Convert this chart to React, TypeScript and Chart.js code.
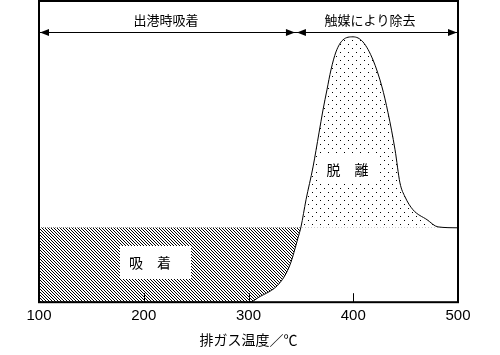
import { useEffect, useRef } from "react";
import { Chart, registerables } from "chart.js";

Chart.register(...registerables);

// ---- data ----
const temps = [100, 301.4, 309.1, 330.1, 339.6, 347.3, 350.1, 354.9, 361.6, 367.3, 371.1, 374.9, 378.7, 383.5, 390.2, 399.8, 409.3, 418.9, 427.4, 433.2, 439.9, 444.6, 449.4, 457.0, 470.4, 480.9, 500];
const signal = [0, 0, 1.5, 6.5, 12.4, 21.4, 25.0, 34.0, 44.9, 56.2, 63.8, 70.5, 77.1, 83.1, 87.1, 88.1, 86.4, 80.4, 71.5, 62.9, 50.6, 39.6, 35.0, 30.7, 27.4, 25.0, 24.7];
const baselineLevel = 24.7;
const baselineStart = 100;
const baselineEnd = 349.6;
const xTicks = [100, 200, 300, 400, 500];
const innerTicks = [200, 300, 400];
const xTitle = "排ガス温度／℃";

const phaseLabels = ["出港時吸着", "触媒により除去"];
const phaseBounds = [100, 345.3, 500];
const phaseTextX = [221.2, 416];
const phaseTextY = 93.7;
const phaseArrowY = 89.7;

const regionLabels = ["吸　着", "脱　離"];
const regionTextX = [206, 394.5];
const regionTextY = [13, 44.1];
const regionBoxX = [211.2, 395.9];
const regionBoxY = [13.3, 44.1];

const CJK = '"Noto Sans CJK JP", sans-serif';

function makeHatch(): CanvasPattern | string {
  const c = document.createElement("canvas");
  c.width = 3;
  c.height = 3;
  const g = c.getContext("2d")!;
  g.fillStyle = "#fff";
  g.fillRect(0, 0, 3, 3);
  g.fillStyle = "#000";
  for (let i = 0; i < 3; i++) g.fillRect(i, i, 1, 1);
  return g.createPattern(c, "repeat") || "#888";
}

function makeDots(): CanvasPattern | string {
  const c = document.createElement("canvas");
  c.width = 8;
  c.height = 8;
  const g = c.getContext("2d")!;
  g.fillStyle = "#fff";
  g.fillRect(0, 0, 8, 8);
  g.fillStyle = "#000";
  g.fillRect(0, 0, 1, 1);
  g.fillRect(4, 4, 1, 1);
  return g.createPattern(c, "repeat") || "#ccc";
}

const overlay = {
  id: "overlay",
  afterDatasetsDraw(chart: any) {
    const { ctx, chartArea: a } = chart;
    const x = chart.scales.x;
    const y = chart.scales.y;
    ctx.save();

    // label boxes
    const boxW = [71, 62];
    const boxH = [33, 29];
    ctx.fillStyle = "#fff";
    for (let i = 0; i < regionLabels.length; i++) {
      const cx = x.getPixelForValue(regionBoxX[i]);
      const cy = y.getPixelForValue(regionBoxY[i]);
      ctx.fillRect(Math.round(cx - boxW[i] / 2), Math.round(cy - boxH[i] / 2), boxW[i], boxH[i]);
    }
    ctx.fillStyle = "#000";
    ctx.textAlign = "center";
    ctx.textBaseline = "middle";
    ctx.font = "14px " + CJK;
    for (let i = 0; i < regionLabels.length; i++) {
      ctx.fillText(regionLabels[i], x.getPixelForValue(regionTextX[i]), y.getPixelForValue(regionTextY[i]));
    }

    // inner tick marks
    ctx.strokeStyle = "#000";
    ctx.lineWidth = 1;
    ctx.beginPath();
    for (const t of innerTicks) {
      const px = Math.round(x.getPixelForValue(t)) + 0.5;
      ctx.moveTo(px, a.bottom);
      ctx.lineTo(px, a.bottom - 9);
    }
    ctx.stroke();

    // phase arrows
    const yA = Math.round(y.getPixelForValue(phaseArrowY)) + 0.5;
    const x0 = x.getPixelForValue(phaseBounds[0]) + 1;
    const x1 = x.getPixelForValue(phaseBounds[1]);
    const x2 = x.getPixelForValue(phaseBounds[2]) - 1;
    ctx.beginPath();
    ctx.moveTo(x0, yA);
    ctx.lineTo(x2, yA);
    ctx.stroke();
    const head = (tip: number, dir: number) => {
      ctx.beginPath();
      ctx.moveTo(tip, yA);
      ctx.lineTo(tip - dir * 9, yA - 3.5);
      ctx.lineTo(tip - dir * 9, yA + 3.5);
      ctx.closePath();
      ctx.fill();
    };
    head(x0, -1);
    head(x1 - 1, 1);
    head(x1 + 1, -1);
    head(x2, 1);
    ctx.font = "13px " + CJK;
    for (let i = 0; i < phaseLabels.length; i++) {
      ctx.fillText(phaseLabels[i], x.getPixelForValue(phaseTextX[i]), y.getPixelForValue(phaseTextY));
    }

    // frame
    ctx.lineWidth = 2;
    ctx.strokeRect(a.left, a.top, a.right - a.left, a.bottom - a.top);
    ctx.restore();
  },
};

export default function App() {
  const ref = useRef<HTMLCanvasElement>(null);
  useEffect(() => {
    document.body.style.margin = "0";
    const hatch = makeHatch();
    const dots = makeDots();
    const chart = new Chart(ref.current!, {
      type: "line",
      data: {
        datasets: [
          {
            data: temps.map((t, i) => ({ x: t, y: signal[i] })),
            borderColor: "#000",
            borderWidth: 1,
            pointRadius: 0,
            cubicInterpolationMode: "monotone",
            fill: { value: baselineLevel, above: dots, below: hatch } as any,
          },
          {
            data: [
              { x: baselineStart, y: baselineLevel },
              { x: baselineEnd, y: baselineLevel },
            ],
            borderColor: "#333",
            borderWidth: 1,
            borderDash: [1, 1],
            pointRadius: 0,
            fill: false,
          },
        ],
      },
      options: {
        responsive: false,
        animation: false,
        events: [],
        layout: { padding: { left: 39, right: 42, top: 1, bottom: 7 } },
        plugins: { legend: { display: false }, tooltip: { enabled: false } },
        scales: {
          x: {
            type: "linear",
            min: 100,
            max: 500,
            afterBuildTicks: (s: any) => {
              s.ticks = xTicks.map((v) => ({ value: v }));
            },
            grid: { display: false, drawTicks: false },
            border: { display: false },
            ticks: {
              padding: 5,
              color: "#000",
              font: { family: '"Liberation Sans", sans-serif', size: 15 },
            },
            title: {
              display: true,
              text: xTitle,
              color: "#000",
              font: { family: CJK, size: 14 },
              padding: { top: 1, bottom: 0 },
            },
          },
          y: { display: false, min: 0, max: 100 },
        },
      },
      plugins: [overlay],
    });
    return () => chart.destroy();
  }, []);
  return (
    <canvas
      ref={ref}
      width={500}
      height={355}
      style={{ position: "absolute", left: 0, top: 0, display: "block", width: 500, height: 355 }}
    />
  );
}
